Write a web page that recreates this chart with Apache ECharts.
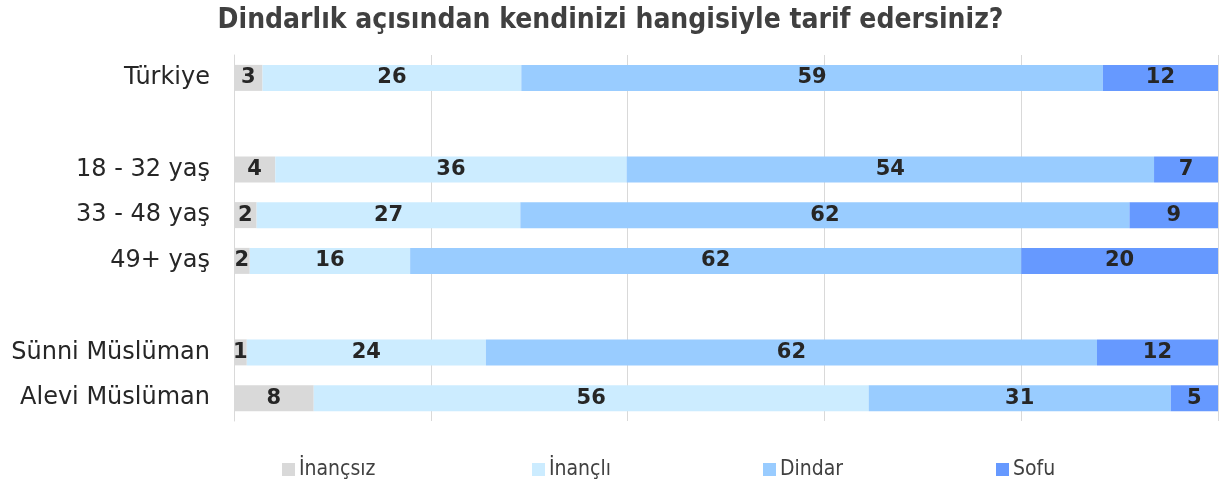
<!DOCTYPE html>
<html>
<head>
<meta charset="utf-8">
<script src="https://cdn.jsdelivr.net/npm/echarts@6/dist/echarts.min.js"></script>
<style>
    html, body { margin: 0; padding: 0; background: #fff; }
    #chart { width: 1221px; height: 483px; }
</style>
</head>
<body>
<div id="chart"></div>
<script>
/* Veriler: boş satırlar gruplar arası boşluk için */
const categories = ['Türkiye', '', '18 - 32 yaş', '33 - 48 yaş', '49+ yaş', '', 'Sünni Müslüman', 'Alevi Müslüman'];
const seriesNames = ['İnançsız', 'İnançlı', 'Dindar', 'Sofu'];
const inancsiz = [2.9, '-', 4.2, 2.3, 1.6, '-', 1.3, 8.1];
const inancli = [26.3, '-', 35.7, 26.8, 16.3, '-', 24.3, 56.4];
const dindar = [59.1, '-', 53.6, 61.9, 62.1, '-', 62.1, 30.7];
const sofu = [11.7, '-', 6.5, 9.0, 20.0, '-', 12.3, 4.8];
const colors = ['#D9D9D9', '#CCECFF', '#99CCFF', '#6699FF'];
const legendLeft = [277, 527, 758, 991];

const condensed = '"DejaVu Sans Condensed", "DejaVu Sans", sans-serif';

var chart = echarts.init(document.getElementById('chart'));

function makeSeries(name, data, color) {
    return {
        name: name,
        type: 'bar',
        stack: 'total',
        barWidth: 26,
        itemStyle: { color: color },
        label: {
            show: true,
            position: 'inside',
            fontFamily: 'DejaVu Sans',
            fontWeight: 'bold',
            fontSize: 21,
            color: '#262626',
            formatter: function (p) {
                return (typeof p.value === 'number') ? Math.round(p.value) : '';
            }
        },
        emphasis: { disabled: true },
        data: data
    };
}

// her lejant öğesi ayrı konumlanıyor
let legends = seriesNames.map(function (n, i) {
    return {
        data: [n],
        left: legendLeft[i],
        top: 454,
        icon: 'rect',
        itemWidth: 13,
        itemHeight: 13,
        itemGap: 0,
        textStyle: {
            fontFamily: condensed,
            fontSize: 21,
            color: '#404040',
            padding: [0, 0, 0, -1]
        }
    };
});

option = {
    animation: false,
    title: {
        text: 'Dindarlık açısından kendinizi hangisiyle tarif edersiniz?',
        left: 'center',
        top: 2,
        textStyle: {
            fontFamily: condensed,
            fontWeight: 'bold',
            fontSize: 28,
            color: '#404040'
        }
    },
    legend: legends,
    grid: {
        left: 234,
        right: 3,
        top: 55,
        bottom: 62
    },
    xAxis: {
        type: 'value',
        min: 0,
        max: 100,
        interval: 20,
        axisLabel: { show: false },
        axisLine: { show: false },
        axisTick: { show: false },
        splitLine: { lineStyle: { color: '#D9D9D9', width: 1 } }
    },
    yAxis: {
        type: 'category',
        inverse: true,
        data: categories,
        axisTick: { show: false },
        axisLine: { show: true, lineStyle: { color: '#D9D9D9' } },
        axisLabel: {
            margin: 24,
            fontFamily: 'DejaVu Sans',
            fontSize: 24,
            color: '#262626'
        }
    },
    series: [
        makeSeries(seriesNames[0], inancsiz, colors[0]),
        makeSeries(seriesNames[1], inancli, colors[1]),
        makeSeries(seriesNames[2], dindar, colors[2]),
        makeSeries(seriesNames[3], sofu, colors[3])
    ]
};
chart.setOption(option);
</script>
</body>
</html>
